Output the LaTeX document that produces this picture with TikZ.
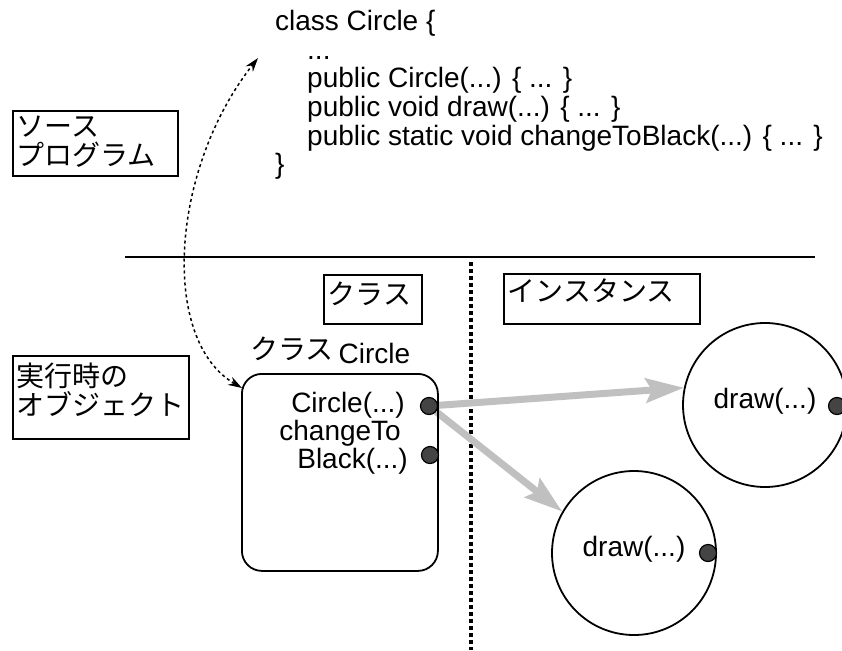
\documentclass[tikz,border=0pt]{standalone}
\usepackage{fontspec}
\setmainfont{Liberation Sans}
\newfontfamily\jp{Noto Sans CJK JP}
\usetikzlibrary{arrows.meta,calc,backgrounds}
\definecolor{ggrey}{RGB}{192,192,192}
\definecolor{dotfill}{RGB}{68,68,68}
\begin{document}
\begin{tikzpicture}[x=1pt,y=-1pt,
  txt/.style={font=\fontsize{28}{28}\selectfont, inner sep=0pt},
  jbox/.style={draw, line width=1.5pt, inner xsep=4pt, inner ysep=0pt, align=left,
    anchor=north west, font=\jp\fontsize{28}{29}\selectfont},
  dot/.style={circle, draw, line width=1.2pt, fill=dotfill, minimum size=17pt, inner sep=0pt},
  inst/.style={circle, draw, line width=1.8pt, minimum size=164pt, inner sep=0pt,
    font=\fontsize{28}{28}\selectfont, text height=20pt, text depth=14pt},
  flow/.style={line width=7pt, draw=ggrey, -{Stealth[length=38pt,width=24pt,inset=6pt]}},
  link/.style={line width=1.5pt, dash pattern=on 3pt off 3pt,
    {Stealth[length=14pt,width=9pt]}-{Stealth[length=14pt,width=9pt]}}
]
\useasboundingbox (0,0) rectangle (842,650);

% source code listing
\node[txt, anchor=base west] (k0) at (275,31) {class Circle \{};
\node[txt, anchor=base west] (k1) at (307,59.5) {...};
\node[txt, anchor=base west] (k2) at (307,88) {public Circle(...) \{ ... \}};
\node[txt, anchor=base west] (k3) at (307,116.5) {public void draw(...) \{ ... \}};
\node[txt, anchor=base west] (k4) at (307,145) {public static void changeToBlack(...) \{ ... \}};
\node[txt, anchor=base west] (k5) at (275,173.5) {\}};

% side captions
\node[jbox, text width=157pt, text height=26pt, text depth=39pt] (src) at (12,110) {ソース\\プログラム};
\node[jbox, text width=168pt, text height=31pt, text depth=52pt] (run) at (12,355) {実行時の\\オブジェクト};

% separators
\coordinate (hl) at (125,257);
\coordinate (hr) at (815,257);
\draw[line width=2.5pt] (hl) -- (hr);

% column headings
\node[jbox, text width=90pt, text height=30pt, text depth=19pt] (hcls) at (323,274) {クラス};
\node[jbox, text width=188pt, text height=28pt, text depth=22pt] (hins) at (503,273) {インスタンス};

% class object
\node[draw, line width=1.8pt, rounded corners=20pt, minimum width=196pt, minimum height=197pt,
  anchor=north west] (cls) at (241,373) {};
\node[txt, anchor=base west] (clsname) at (250,363) {\raisebox{4pt}{\jp クラス}\hspace{5pt}Circle};
\node[txt, anchor=base east] (m1) at (405,412) {Circle(...)};
\node[txt, anchor=base east] (m2) at (401,440) {changeTo};
\node[txt, anchor=base east] (m3) at (408,468) {Black(...)};
\node[dot] (d1) at (429,406) {};
\node[dot] (d2) at (430,455) {};

% instances
\node[inst] (c1) at (765,405) {draw(...)};
\node[dot] (d3) at (837,406) {};
\node[inst] (c2) at (634,553) {draw(...)};
\node[dot] (d4) at (708,553) {};

\begin{scope}[on background layer]
  \coordinate (vt) at (471,262);
  \coordinate (vb) at (471,650);
  \draw[line width=4pt, dash pattern=on 3.5pt off 3.5pt] (vt) -- (vb);
  \draw[flow] (d1.center) -- (c1.168);
  \draw[flow] (d1.center) -- (c2.150);
\end{scope}

% correspondence between source and runtime class
\coordinate (srcTip) at (258,58);
\draw[link] ($(cls.north west)+(1,15)$) .. controls (160,340) and (170,170) .. (srcTip);
\end{tikzpicture}
\end{document}
